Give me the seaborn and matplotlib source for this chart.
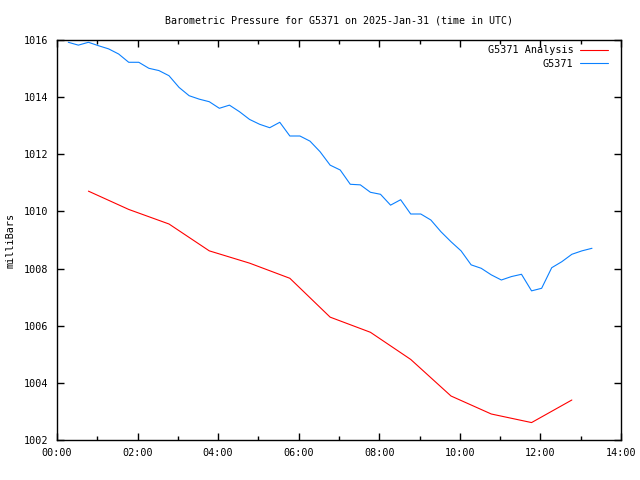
import numpy as np
import pandas as pd
import seaborn as sns
import matplotlib.pyplot as plt
from matplotlib.ticker import MultipleLocator, FuncFormatter

# station obs, every 15 min starting ~00:17 UTC
obs_start = 0.28
obs_pressure = [1015.92, 1015.82, 1015.92, 1015.80, 1015.69, 1015.51, 1015.22, 1015.22,
                1015.01, 1014.93, 1014.75, 1014.34, 1014.05, 1013.93, 1013.84, 1013.61,
                1013.72, 1013.49, 1013.22, 1013.05, 1012.93, 1013.12, 1012.64, 1012.64,
                1012.46, 1012.09, 1011.62, 1011.45, 1010.95, 1010.93, 1010.67, 1010.60,
                1010.22, 1010.41, 1009.91, 1009.91, 1009.70, 1009.29, 1008.94, 1008.62,
                1008.13, 1008.01, 1007.78, 1007.60, 1007.72, 1007.80, 1007.22, 1007.31,
                1008.03, 1008.24, 1008.50, 1008.62, 1008.71]
obs_hours = [obs_start + 0.25 * i for i in range(len(obs_pressure))]

# analysis, hourly
ana_hours = [0.78, 1.78, 2.78, 3.78, 4.78, 5.78, 6.78, 7.78, 8.78, 9.78, 10.78, 11.78, 12.78]
ana_pressure = [1010.71, 1010.07, 1009.56, 1008.62, 1008.19, 1007.66, 1006.30,
                1005.77, 1004.82, 1003.54, 1002.91, 1002.61, 1003.40]

df = pd.concat([
    pd.DataFrame({'hour': ana_hours, 'mb': ana_pressure, 'series': 'G5371 Analysis'}),
    pd.DataFrame({'hour': obs_hours, 'mb': obs_pressure, 'series': 'G5371'}),
])

sns.set_style('ticks')
plt.rcParams['font.family'] = ['DejaVu Sans Mono']
plt.rcParams['font.size'] = 7
plt.rcParams['text.color'] = 'black'
plt.rcParams['axes.labelcolor'] = 'black'
plt.rcParams['xtick.color'] = 'black'
plt.rcParams['ytick.color'] = 'black'

fig = plt.figure(figsize=(6.4, 4.8), dpi=100)
ax = fig.add_axes([57 / 640, 40 / 480, 564 / 640, 400 / 480])

sns.lineplot(data=df, x='hour', y='mb', hue='series',
             palette={'G5371 Analysis': '#ff0000', 'G5371': '#0a80ff'},
             linewidth=0.8, ax=ax)

ax.set_xlim(0, 14)
ax.set_ylim(1002, 1016)
ax.xaxis.set_major_locator(MultipleLocator(2))
ax.xaxis.set_minor_locator(MultipleLocator(1))
ax.xaxis.set_major_formatter(FuncFormatter(lambda v, p: '%02d:00' % int(v)))
ax.yaxis.set_major_locator(MultipleLocator(2))
ax.tick_params(which='both', direction='in', top=True, right=True, labelsize=7.3,
               width=1, color='black', pad=6)
ax.tick_params(which='major', length=5)
ax.tick_params(which='minor', length=3)
for s in ax.spines.values():
    s.set_linewidth(1)
    s.set_color('black')

ax.set_xlabel('')
ax.set_ylabel('milliBars', fontsize=7.3, labelpad=6)
ax.set_title('Barometric Pressure for G5371 on 2025-Jan-31 (time in UTC)', fontsize=7.2, pad=12)

leg = ax.legend(loc='upper right', frameon=False, markerfirst=False, fontsize=7.3,
                handlelength=2.7, handletextpad=0.7, borderaxespad=0.6,
                bbox_to_anchor=(1 - 3 / 564, 1 + 5 / 400),
                labelspacing=0.35, title=None)
for t in leg.get_texts():
    t.set_ha('right')

plt.savefig('out.png', dpi=100)
